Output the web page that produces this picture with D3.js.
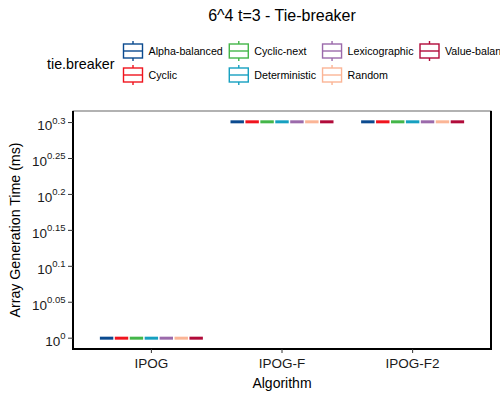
<!DOCTYPE html>
<html>
<head>
<meta charset="utf-8">
<script src="https://cdn.jsdelivr.net/npm/d3@7"></script>
<style>
  html, body { margin: 0; padding: 0; background: #fff; }
  text { font-family: "Liberation Sans", Arial, Helvetica, sans-serif; fill: #000; }
</style>
</head>
<body>
<svg id="chart" width="500" height="400"></svg>
<script>
// ---- data ----
const algorithms = ["IPOG", "IPOG-F", "IPOG-F2"];
const tieBreakers = ["Alpha-balanced", "Cyclic", "Cyclic-next", "Deterministic", "Lexicographic", "Random", "Value-balanced"];
const tieColors = ["#0b4a8f", "#f0141e", "#44b649", "#16a0c0", "#9b6aab", "#fbb596", "#b10b3a"];
// array generation time (ms), one value per tie-breaker, per algorithm
const timeIPOG   = [1.0, 1.0, 1.0, 1.0, 1.0, 1.0, 1.0];
const timeIPOGF  = [2.0, 2.0, 2.0, 2.0, 2.0, 2.0, 2.0];
const timeIPOGF2 = [2.0, 2.0, 2.0, 2.0, 2.0, 2.0, 2.0];
const yTickExps = ["0", "0.05", "0.1", "0.15", "0.2", "0.25", "0.3"];

const seriesByAlg = { "IPOG": timeIPOG, "IPOG-F": timeIPOGF, "IPOG-F2": timeIPOGF2 };
const rows = [];
algorithms.forEach(a => seriesByAlg[a].forEach((v, i) => rows.push({ alg: a, tb: tieBreakers[i], v })));

// ---- layout ----
const svg = d3.select("#chart");
const P = { left: 73, right: 491, top: 111, bottom: 349 };

const logs = rows.map(d => Math.log10(d.v));
const lo = d3.min(logs), hi = d3.max(logs), pad = (hi - lo) * 0.05;
const y = d3.scaleLog().domain([Math.pow(10, lo - pad), Math.pow(10, hi + pad)]).range([P.bottom, P.top]);

const x = d3.scaleBand().domain(algorithms).range([P.left, P.right]).paddingInner(0.2).paddingOuter(0.2);
const xs = d3.scaleBand().domain(tieBreakers).range([0, x.bandwidth()]).padding(0);
const color = d3.scaleOrdinal().domain(tieBreakers).range(tieColors);

// panel border
svg.append("rect").attr("x", P.left).attr("y", P.top)
  .attr("width", P.right - P.left).attr("height", P.bottom - P.top)
  .attr("fill", "none").attr("stroke", "#666").attr("stroke-width", 1);

// boxes (degenerate)
const boxW = xs.bandwidth() * 0.9;
const g = svg.append("g");
rows.forEach(d => {
  const cx = x(d.alg) + xs(d.tb) + xs.bandwidth() / 2;
  const cy = y(d.v);
  g.append("line").attr("x1", cx - boxW / 2).attr("x2", cx + boxW / 2)
    .attr("y1", cy).attr("y2", cy)
    .attr("stroke", color(d.tb)).attr("stroke-width", 3);
});

// axes lines
svg.append("line").attr("x1", P.left).attr("x2", P.left).attr("y1", P.top).attr("y2", P.bottom + 1)
  .attr("stroke", "#000").attr("stroke-width", 2);
svg.append("line").attr("x1", P.left - 1).attr("x2", P.right + 1).attr("y1", P.bottom).attr("y2", P.bottom)
  .attr("stroke", "#000").attr("stroke-width", 2);
svg.append("line").attr("x1", P.right).attr("x2", P.right).attr("y1", P.top).attr("y2", P.bottom + 1)
  .attr("stroke", "#000").attr("stroke-width", 2);

// y ticks
yTickExps.forEach(e => {
  const yy = y(Math.pow(10, +e));
  svg.append("line").attr("x1", P.left - 5).attr("x2", P.left).attr("y1", yy).attr("y2", yy)
    .attr("stroke", "#333").attr("stroke-width", 1);
  const t = svg.append("text").attr("x", P.left - 7.5).attr("y", yy + 7.5).attr("text-anchor", "end")
    .style("font-size", "13.5px").style("fill", "#1a1a1a");
  t.append("tspan").text("10");
  t.append("tspan").attr("dy", -6.5).style("font-size", "9.5px").text(e);
});

// x ticks
algorithms.forEach(a => {
  const xx = x(a) + x.bandwidth() / 2;
  svg.append("line").attr("x1", xx).attr("x2", xx).attr("y1", P.bottom).attr("y2", P.bottom + 4)
    .attr("stroke", "#333").attr("stroke-width", 1);
  svg.append("text").attr("x", xx).attr("y", 368).attr("text-anchor", "middle")
    .style("font-size", "13.5px").style("fill", "#1a1a1a").text(a);
});

// axis titles
svg.append("text").attr("x", (P.left + P.right) / 2).attr("y", 388).attr("text-anchor", "middle")
  .style("font-size", "14px").text("Algorithm");
svg.append("text").attr("transform", `translate(20,${(P.top + P.bottom) / 2}) rotate(-90)`)
  .attr("text-anchor", "middle").style("font-size", "14.2px").text("Array Generation Time (ms)");

// title
svg.append("text").attr("x", (P.left + P.right) / 2).attr("y", 21).attr("text-anchor", "middle")
  .style("font-size", "16px").text("6^4 t=3 - Tie-breaker");

// legend
svg.append("text").attr("x", 47).attr("y", 69).style("font-size", "14.3px").text("tie.breaker");
const rowY = [51, 75];
let colX = 123.5;
const nCols = Math.ceil(tieBreakers.length / 2);
for (let c = 0; c < nCols; c++) {
  let maxW = 0;
  for (let r = 0; r < 2; r++) {
    const i = c * 2 + r;
    if (i >= tieBreakers.length) break;
    const tb = tieBreakers[i];
    const cy = rowY[r];
    const col = color(tb);
    const kg = svg.append("g");
    kg.append("line").attr("x1", colX + 9.5).attr("x2", colX + 9.5).attr("y1", cy - 10).attr("y2", cy + 10)
      .attr("stroke", col).attr("stroke-width", 1.4);
    kg.append("rect").attr("x", colX).attr("y", cy - 7).attr("width", 19).attr("height", 14)
      .attr("fill", "#fff").attr("stroke", col).attr("stroke-width", 1.4);
    kg.append("line").attr("x1", colX).attr("x2", colX + 19).attr("y1", cy).attr("y2", cy)
      .attr("stroke", col).attr("stroke-width", 1.4);
    const t = svg.append("text").attr("x", colX + 25).attr("y", cy + 4)
      .style("font-size", "10.7px").text(tb);
    maxW = Math.max(maxW, t.node().getComputedTextLength());
  }
  colX = colX + 25 + maxW + 6.5;
}
</script>
</body>
</html>
